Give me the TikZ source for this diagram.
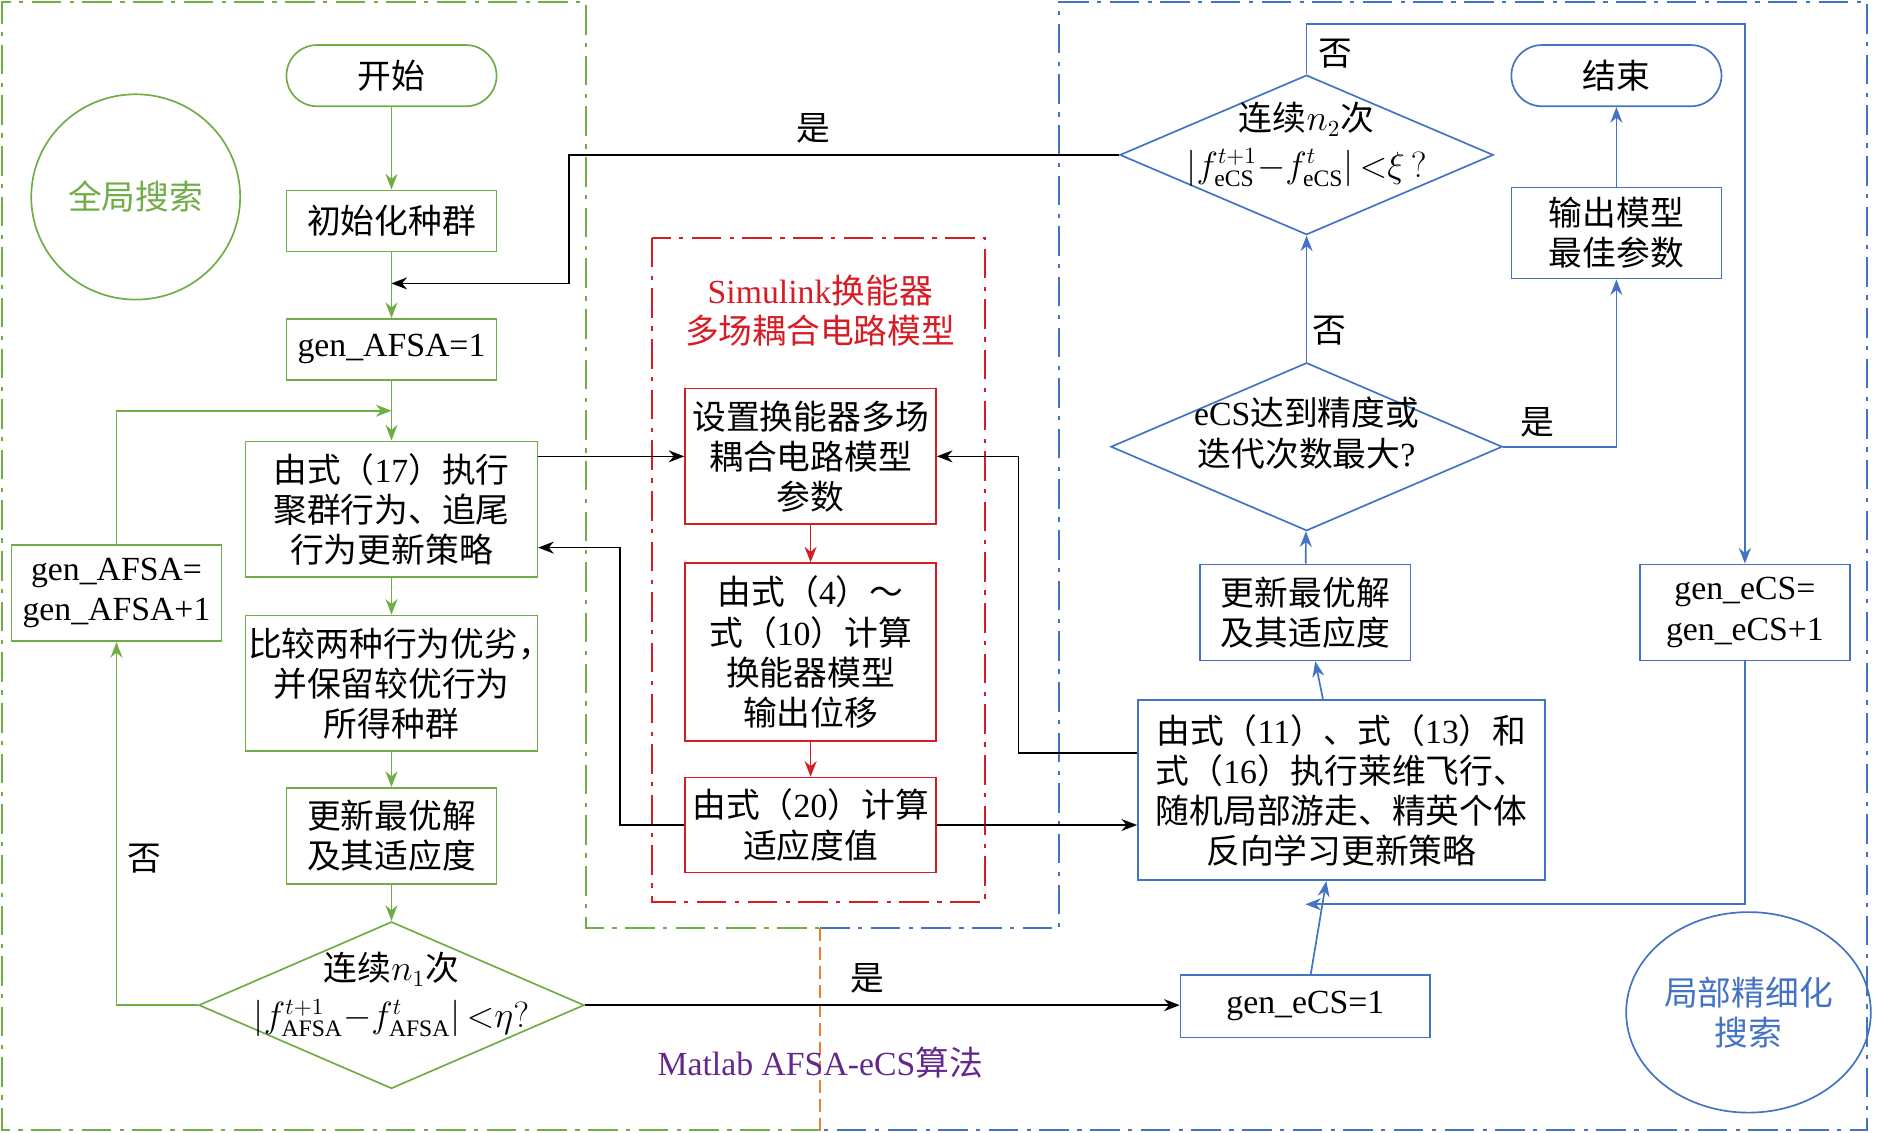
\documentclass[tikz,border=0pt]{standalone}
\usepackage{fontspec}
\setmainfont{Liberation Serif}
\newfontfamily\zh{Noto Sans CJK SC}
\usetikzlibrary{arrows.meta,shapes.geometric}
\definecolor{cgreen}{RGB}{112,173,71}
\definecolor{cblue}{RGB}{68,114,196}
\definecolor{cred}{RGB}{214,28,36}
\definecolor{corange}{RGB}{237,125,49}
\definecolor{cpurple}{RGB}{100,40,140}
\newcommand{\en}[1]{{\rmfamily #1}}
\newcommand{\dtext}[1]{\makebox[0pt]{\smash{\begin{tabular}{@{}c@{}}#1\end{tabular}}}}

\begin{document}
\begin{tikzpicture}[
  x=0.02cm, y=-0.02cm,
  every node/.style = {font=\zh\fontsize{16pt}{19pt}\selectfont, inner sep=1pt},
  box/.style = {draw, line width=0.8pt, align=center},
  gbox/.style = {box, draw=cgreen},
  rbox/.style = {box, draw=cred},
  bbox/.style = {box, draw=cblue},
  small/.style = {minimum width=3.5cm, minimum height=1.02cm},
  mid/.style = {minimum width=3.5cm, minimum height=1.6cm},
  wide/.style = {minimum width=4.86cm, minimum height=2.26cm},
  term/.style = {rounded corners=0.51cm},
  dia/.style = {diamond, draw, line width=0.8pt, inner sep=0pt},
  ring/.style = {ellipse, draw, line width=0.8pt, align=center},
  lbl/.style = {inner sep=0pt},
  tip/.style = {-{Stealth[length=2.6mm, width=2mm]}},
  garrow/.style = {tip, draw=cgreen, line width=0.8pt},
  rarrow/.style = {tip, draw=cred, line width=0.8pt},
  barrow/.style = {tip, draw=cblue, line width=0.8pt},
  karrow/.style = {tip, draw=black, line width=0.8pt},
  frame/.style = {line width=1pt, dash pattern=on 14pt off 4pt on 2pt off 4pt}
]
  \useasboundingbox (0,0) rectangle (1568,943);

  % regions
  \draw[frame, draw=cgreen] (683,941) -- (2,941) -- (2,2) -- (488,2) -- (488,773) -- (683,773);
  \draw[frame, draw=cblue] (683,773) -- (882,773) -- (882,2) -- (1555,2) -- (1555,941) -- (683,941);
  \draw[draw=corange, line width=1pt, dash pattern=on 6pt off 3pt] (683,773) -- (683,943);
  \draw[frame, draw=cred, line width=0.8pt] (543,198) rectangle (820,751);

  % global search (AFSA)
  \node[gbox, small, term] (start) at (326,63) {开始};
  \node[gbox, small] (init) at (326,184) {初始化种群};
  \node[gbox, small] (gen1) at (326,291) {\en{gen\_AFSA=1}};
  \node[gbox, wide] (act17) at (326,424) {由式（\en{17}）执行\\聚群行为、追尾\\行为更新策略};
  \node[gbox, wide] (cmp) at (326,569) {比较两种行为优劣\makebox[0.5em][l]{，}\\并保留较优行为\\所得种群};
  \node[gbox, mid] (upd1) at (326,696) {更新最优解\\及其适应度};
  \node[dia, draw=cgreen, minimum width=6.42cm, minimum height=2.78cm] (cond1) at (326,837)
    {\dtext{连续$n_1$次\\[3pt]$\left|f^{t+1}_{\mathrm{AFSA}}{-}f^{t}_{\mathrm{AFSA}}\right|{<}\eta?$}};
  \node[gbox, mid] (inc1) at (97,494) {\en{gen\_AFSA=}\\\en{gen\_AFSA+1}};
  \node[ring, draw=cgreen, text=cgreen, minimum width=3.48cm, minimum height=3.42cm] (glob) at (113,164) {全局搜索};
  \node[lbl] (no1) at (120,715) {否};

  % simulink model
  \node[text=cred, align=center] (simt) at (683,259) {\en{Simulink}换能器\\多场耦合电路模型};
  \node[rbox, minimum width=4.18cm, minimum height=2.26cm] (set) at (675,380) {设置换能器多场\\耦合电路模型\\参数};
  \node[rbox, minimum width=4.18cm, minimum height=2.96cm] (calc) at (675,543) {由式（\en{4}）～\\式（\en{10}）计算\\换能器模型\\输出位移};
  \node[rbox, minimum width=4.18cm, minimum height=1.58cm] (fit20) at (675,687) {由式（\en{20}）计算\\适应度值};
  \node[text=cpurple] (alg) at (683,885) {\en{Matlab AFSA-eCS}算法};
  \node[lbl] (yes1) at (677,107) {是};
  \node[lbl] (yes2) at (722,815) {是};

  % local search (eCS)
  \node[dia, draw=cblue, minimum width=6.22cm, minimum height=2.66cm] (cond2) at (1088,129)
    {\dtext{连续$n_2$次\\[3pt]$\left|f^{t+1}_{\mathrm{eCS}}{-}f^{t}_{\mathrm{eCS}}\right|{<}\xi\,?$}};
  \node[dia, draw=cblue, minimum width=6.52cm, minimum height=2.8cm] (cond3) at (1088,372)
    {\dtext{\en{eCS}达到精度或\\迭代次数最大\en{?}}};
  \node[bbox, mid] (upd2) at (1087,510) {更新最优解\\及其适应度};
  \node[bbox, minimum width=6.78cm, minimum height=3cm] (lev) at (1117,658)
    {由式（\en{11}）、式（\en{13}）和\\式（\en{16}）执行莱维飞行、\\随机局部游走、精英个体\\反向学习更新策略};
  \node[bbox, minimum width=4.16cm, minimum height=1.04cm] (ecs1) at (1087,838) {\en{gen\_eCS=1}};
  \node[bbox, small, term] (stop) at (1346,63) {结束};
  \node[bbox, minimum width=3.5cm, minimum height=1.52cm] (outp) at (1346,194) {输出模型\\最佳参数};
  \node[bbox, mid] (inc2) at (1453,510) {\en{gen\_eCS=}\\\en{gen\_eCS+1}};
  \node[ring, draw=cblue, text=cblue, minimum width=3.44cm, minimum height=3.34cm] (loc) at (1456,843) {局部精细化\\搜索};
  \node[lbl] (no2) at (1112,45) {否};
  \node[lbl] (no3) at (1107,275) {否};
  \node[lbl] (yes3) at (1280,352) {是};

  % bends and joins
  \coordinate (jn0) at (326,236);
  \coordinate (jn1) at (326,342);
  \coordinate (jn2) at (1087,753);
  \coordinate (b1) at (474,236);
  \coordinate (b2) at (516,456);
  \coordinate (b3) at (848,627);
  \coordinate (b4) at (1453,20);

  % green flow
  \draw[garrow] (start) -- (init);
  \draw[garrow] (init) -- (gen1);
  \draw[garrow] (gen1) -- (act17);
  \draw[garrow] (act17) -- (cmp);
  \draw[garrow] (cmp) -- (upd1);
  \draw[garrow] (upd1) -- (cond1);
  \draw[garrow] (cond1.west) -| (inc1.south);
  \draw[garrow] (inc1.north) |- (jn1);

  % red flow
  \draw[rarrow] (set) -- (calc);
  \draw[rarrow] (calc) -- (fit20);

  % black links
  \draw[karrow] (cond2.west) -| (b1) -- (jn0);
  \draw[karrow] (set.west -| act17.east) -- (set.west);
  \draw[karrow] (fit20.west) -| (b2) -- (b2 -| act17.east);
  \draw[karrow] (fit20.east) -- (fit20.east -| lev.west);
  \draw[karrow] (b3 -| lev.west) -- (b3) |- (set.east);
  \draw[karrow] (cond1.east) -- (cond1.east -| ecs1.west);

  % blue flow
  \draw[barrow] (ecs1) -- (lev);
  \draw[barrow] (lev) -- (upd2);
  \draw[barrow] (upd2) -- (cond3);
  \draw[barrow] (cond3) -- (cond2);
  \draw[barrow] (cond3.east) -| (outp.south);
  \draw[barrow] (outp) -- (stop);
  \draw[barrow] (cond2.north) |- (b4) -- (inc2.north);
  \draw[barrow] (inc2.south) |- (jn2);
\end{tikzpicture}
\end{document}
